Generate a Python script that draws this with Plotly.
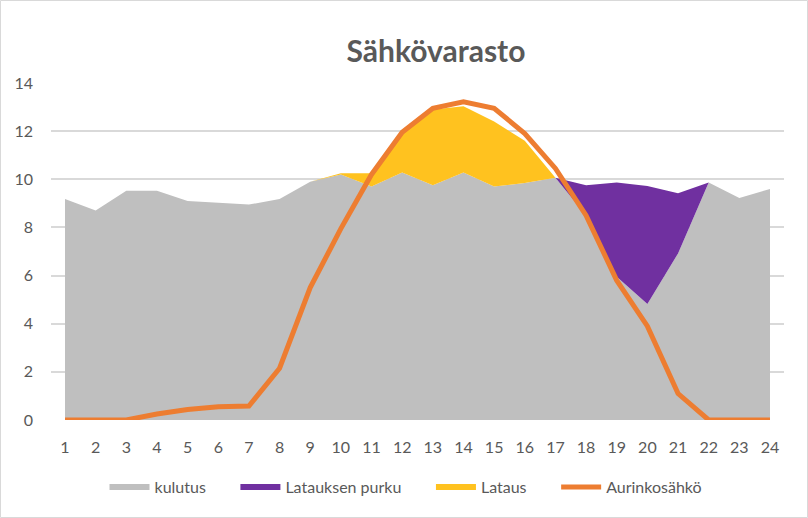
import plotly.graph_objects as go

hours = list(range(1, 25))
tick_labels = [str(h) for h in hours]

kulutus = [9.18, 8.7, 9.52, 9.52, 9.1, 9.03, 8.95, 9.18, 9.9, 10.2, 9.7, 10.28,
           9.75, 10.28, 9.7, 9.85, 10.06, 8.5, 5.95, 4.82, 6.92, 9.87, 9.22, 9.6]
purku = [0, 0, 0, 0, 0, 0, 0, 0, 0, 0, 0, 0,
         0, 0, 0, 0, 0, 1.25, 3.92, 4.9, 2.5, 0, 0, 0]
lataus = [0, 0, 0, 0, 0, 0, 0, 0, 0, 0.05, 0.55, 1.65,
          3.15, 2.75, 2.7, 1.75, 0, 0, 0, 0, 0, 0, 0, 0]
aurinko = [0, 0, 0, 0.25, 0.44, 0.55, 0.58, 2.15, 5.5, 7.95, 10.2, 11.95,
           12.95, 13.22, 12.95, 11.9, 10.45, 8.5, 5.8, 3.9, 1.1, 0, 0, 0]

W, H = 808, 518
ML, MR, MT, MB = 51, 24, 83, 98
PAD = "\u00a0" * 6

fig = go.Figure()
fig.add_trace(go.Scatter(x=hours, y=kulutus, name="kulutus" + PAD, stackgroup="one",
                         mode="none", fillcolor="#bfbfbf"))
fig.add_trace(go.Scatter(x=hours, y=purku, name="Latauksen purku" + PAD, stackgroup="one",
                         mode="none", fillcolor="#7030a0"))
fig.add_trace(go.Scatter(x=hours, y=lataus, name="Lataus" + PAD, stackgroup="one",
                         mode="none", fillcolor="#ffc21f"))
fig.add_trace(go.Scatter(x=hours, y=aurinko, name="Aurinkosähkö", mode="lines",
                         line=dict(color="#ed7d31", width=5, shape="linear")))

pw = W - ML - MR
ph = H - MT - MB
fig.add_shape(type="rect", xref="paper", yref="paper",
              x0=(0.5 - ML) / pw, x1=(W - 0.5 - ML) / pw,
              y0=-(MB - 0.5) / ph, y1=1 + (MT - 0.5) / ph,
              line=dict(color="#d9d9d9", width=1), fillcolor="rgba(0,0,0,0)", layer="below")

fig.update_layout(
    width=W, height=H,
    margin=dict(l=ML, r=MR, t=MT, b=MB, autoexpand=False),
    paper_bgcolor="white", plot_bgcolor="white",
    font=dict(family="Lato, 'Open Sans', sans-serif", color="#595959", size=16),
    title=dict(text="<b>Sähkövarasto</b>", x=436 / W, xanchor="center",
               y=1 - 51 / H, yanchor="middle",
               font=dict(size=30, color="#595959")),
    showlegend=True,
    legend=dict(orientation="h", x=(406 - ML) / pw, xanchor="center",
                y=-(487 - (H - MB)) / ph, yanchor="middle",
                font=dict(size=16, color="#595959"), traceorder="normal",
                itemwidth=40, bgcolor="rgba(0,0,0,0)"),
    xaxis=dict(range=[0.543, 24.457], tickmode="array", tickvals=hours, ticktext=tick_labels,
               showgrid=False, zeroline=False, showline=False, ticks="",
               ticklabelstandoff=16, tickfont=dict(size=16, color="#595959"),
               fixedrange=True),
    yaxis=dict(range=[0, 14], dtick=2, showgrid=True, gridcolor="#d9d9d9", gridwidth=1.5,
               zeroline=False, showline=False, ticks="", ticklabelstandoff=17,
               tickfont=dict(size=16, color="#595959"), fixedrange=True),
)

fig.write_html("out.html", config={"displayModeBar": False})

with open("out.html", "r", encoding="utf-8") as f:
    html = f.read()
html = html.replace("<head>", "<head><style>html,body{margin:0;padding:0;overflow:hidden;}</style>", 1)
with open("out.html", "w", encoding="utf-8") as f:
    f.write(html)
